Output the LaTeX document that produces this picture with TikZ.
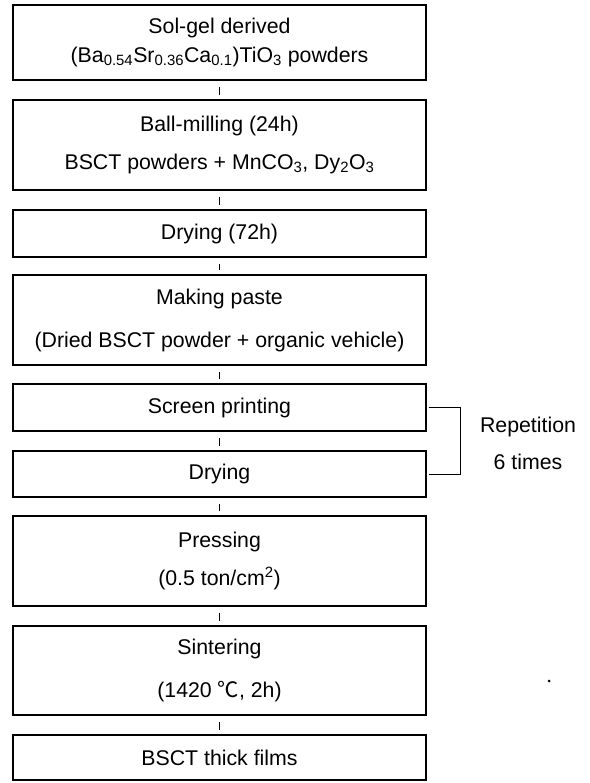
\documentclass[tikz,border=0pt]{standalone}
\usepackage{fontspec}
\setmainfont{Liberation Sans}
\newfontfamily\cjkfont{Noto Sans CJK SC}
\tikzset{
  stepbox/.style={draw, line width=1.2pt, minimum width=413pt, inner sep=0pt, align=center,
    font=\fontsize{21.3}{25}\selectfont},
  tick/.style={line width=1pt, shorten <=6pt, shorten >=4pt},
  brack/.style={line width=1pt},
  lbl/.style={align=center, inner sep=0pt, font=\fontsize{21.3}{25}\selectfont}
}
\begin{document}
\begin{tikzpicture}[x=1pt,y=-1pt]
\useasboundingbox (0,0) rectangle (589,783);
\node[stepbox, minimum height=75pt] (b1) at (219.5,42.5) {Sol-gel derived\\[4pt](Ba\textsubscript{0.54}Sr\textsubscript{0.36}Ca\textsubscript{0.1})TiO\textsubscript{3} powders};
\node[stepbox, minimum height=90pt] (b2) at (219.5,145) {Ball-milling (24h)\\[13pt]BSCT powders + MnCO\textsubscript{3}, Dy\textsubscript{2}O\textsubscript{3}};
\node[stepbox, minimum height=47pt] (b3) at (219.5,233.5) {Drying (72h)};
\node[stepbox, minimum height=90pt] (b4) at (219.5,320) {Making paste\\[18pt](Dried BSCT powder + organic vehicle)};
\node[stepbox, minimum height=47pt] (b5) at (219.5,407.5) {Screen printing};
\node[stepbox, minimum height=46pt] (b6) at (219.5,474) {Drying};
\node[stepbox, minimum height=90pt] (b7) at (219.5,561) {Pressing\\[13pt](0.5 ton/cm\textsuperscript{2})};
\node[stepbox, minimum height=89pt] (b8) at (219.5,670.5) {Sintering\\[18pt](1420 {\cjkfont ℃}, 2h)};
\node[stepbox, minimum height=45pt] (b9) at (219.5,757.5) {BSCT thick films};
\draw[tick] (b1.south) -- (b2.north);
\draw[tick] (b2.south) -- (b3.north);
\draw[tick] (b3.south) -- (b4.north);
\draw[tick] (b4.south) -- (b5.north);
\draw[tick] (b5.south) -- (b6.north);
\draw[tick] (b6.south) -- (b7.north);
\draw[tick] (b7.south) -- (b8.north);
\draw[tick] (b8.south) -- (b9.north);
\coordinate (rt) at (460,407.5);
\coordinate (rb) at (460,474);
\draw[brack] ([xshift=2pt]b5.east) -- (rt) -- (rb) -- ([xshift=2pt]b6.east);
\node[lbl] (rep) at (528,443) {Repetition\\[12pt]6 times};
\fill (549,681) circle (1.5pt);
\end{tikzpicture}
\end{document}
